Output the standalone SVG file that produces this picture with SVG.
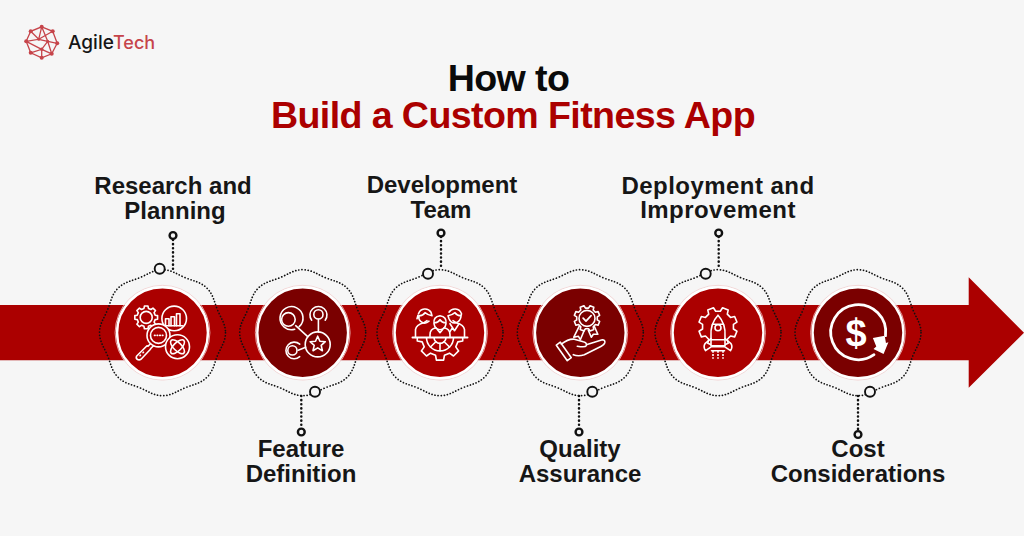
<svg xmlns="http://www.w3.org/2000/svg" width="1024" height="536" viewBox="0 0 1024 536">
<style>
text{font-family:"Liberation Sans",Arial,sans-serif;font-weight:700;text-anchor:middle}
.t{font-size:37.6px;letter-spacing:-.6px}
.l{font-size:24px;fill:#161616}
.x{letter-spacing:.45px}
.i{fill:none;stroke:#fff;stroke-width:1.6;stroke-linecap:round;stroke-linejoin:round}
.ring{fill:none;stroke:#f3cfcf;stroke-width:.8}
.w{fill:none;stroke:#111;stroke-width:1.7;stroke-dasharray:.1 3;stroke-linecap:round}
.d{fill:none;stroke:#111;stroke-width:2.5;stroke-dasharray:.1 4;stroke-linecap:round}
.k{fill:#f6f6f6;stroke:#111;stroke-width:1.9}
.e{fill:#f6f6f6;stroke:#111;stroke-width:2.4}
.lg{fill:none;stroke:#c6444a;stroke-width:1.3}
.ld{fill:#c6444a}
</style>
<defs>
<path id="wave" d="M63,0C63,9 58.4,14.5 55,22.8C51.6,31.1 50.9,38.1 44.5,44.5C38.1,50.9 31.1,51.6 22.8,55C14.5,58.4 9,63 0,63C-9,63 -14.5,58.4 -22.8,55C-31.1,51.6 -38.1,50.9 -44.5,44.5C-50.9,38.1 -51.6,31.1 -55,22.8C-58.4,14.5 -63,9 -63,0C-63,-9 -58.4,-14.5 -55,-22.8C-51.6,-31.1 -50.9,-38.1 -44.5,-44.5C-38.1,-50.9 -31.1,-51.6 -22.8,-55C-14.5,-58.4 -9,-63 0,-63C9,-63 14.5,-58.4 22.8,-55C31.1,-51.6 38.1,-50.9 44.5,-44.5C50.9,-38.1 51.6,-31.1 55,-22.8C58.4,-14.5 63,-9 63,0Z"/>
<polygon id="gear" vector-effect="non-scaling-stroke" points="9.88,-1.56 9.88,1.56 7.76,1.94 6.86,4.12 8.09,5.88 5.88,8.09 4.12,6.86 1.94,7.76 1.56,9.88 -1.56,9.88 -1.94,7.76 -4.12,6.86 -5.88,8.09 -8.09,5.88 -6.86,4.12 -7.76,1.94 -9.88,1.56 -9.88,-1.56 -7.76,-1.94 -6.86,-4.12 -8.09,-5.88 -5.88,-8.09 -4.12,-6.86 -1.94,-7.76 -1.56,-9.88 1.56,-9.88 1.94,-7.76 4.12,-6.86 5.88,-8.09 8.09,-5.88 6.86,-4.12 7.76,-1.94"/>
<g id="disc-r"><circle r="47.4" class="ring"/><circle r="45.4" fill="#ab0000" stroke="#fff" stroke-width="2.4"/></g>
<g id="disc-d"><circle r="47.4" class="ring"/><circle r="45.4" fill="#7a0000" stroke="#fff" stroke-width="2.4"/></g>
<clipPath id="half"><rect x="-30" y="4.7" width="60" height="30"/></clipPath>
</defs>
<rect width="1024" height="536" fill="#f6f6f6"/>

<g id="logo">
<g transform="translate(41.7,42.3)">
<path class="lg" d="M0,-15.5L11,-11L15.5,1L10,11.5L0,15.5L-11,10.5L-15.5,-1L-11,-11Z"/>
<path class="lg" d="M-11,-11L-3,-3L11,-11M0,-15.5L-3,-3L-15.5,-1M-3,-3L6,-1L15.5,1M6,-1L0,7L-11,10.5M0,7L10,11.5M0,7L0,15.5M6,-1L10,11.5M-15.5,-1L0,7M0,-15.5L6,-1"/>
<g class="ld"><circle cy="-15.5" r="2"/><circle cx="11" cy="-11" r="2"/><circle cx="15.5" cy="1" r="2"/><circle cx="10" cy="11.5" r="2"/><circle cy="15.5" r="2"/><circle cx="-11" cy="10.5" r="2"/><circle cx="-15.5" cy="-1" r="2"/><circle cx="-11" cy="-11" r="2"/><circle cy="7" r="1.7"/><circle cx="6" cy="-1" r="1.5"/><circle cx="-3" cy="-3" r="1.5"/></g>
</g>
<text x="68" y="49" font-size="19" style="text-anchor:start;font-family:'Inter','Liberation Sans',sans-serif;font-weight:500" fill="#151515">Agile</text>
<text x="113" y="49" font-size="18" style="text-anchor:start;font-family:'Inter','Liberation Sans',sans-serif;font-weight:500" fill="#c6444a">Tech</text>
</g>

<g id="title">
<text class="t" x="508.500" y="91" fill="#0a0a0a">How to</text>
<text class="t" x="513" y="128" fill="#ab0000">Build a Custom Fitness App</text>
</g>

<path id="arrow" d="M0,305H968.7V277.3L1024,332.7L968.7,387.7V360.3H0Z" fill="#ab0000"/>

<g id="connectors">
<path class="d" d="M173,240V269"/>
<path class="d" d="M301.3,396V428"/>
<path class="d" d="M441,237V269"/>
<path class="d" d="M579,396V428"/>
<path class="d" d="M718.7,237V269"/>
<path class="d" d="M858,396V430"/>
</g>

<g id="node-research" transform="translate(162.5,332.7)">
<use href="#disc-r"/><use href="#wave" class="w"/>
<g class="i">
<use href="#gear" transform="translate(-16.3,-15.3) scale(1.15)"/><circle cx="-16.3" cy="-15.3" r="6"/>
<circle cx="11.7" cy="-14.3" r="12.3"/><path d="M3,-7V-14H6.5V-7M8.5,-7V-16H12V-7M14,-7V-19H17.5V-7"/><path d="M2,-7H20"/>
<circle cx="-4" cy="2.7" r="11.5" fill="#ab0000"/><circle cx="-4" cy="2.7" r="8"/><path d="M-8,2.7H-7.4M-5.4,2.7H-4.8M-2.8,2.7H-2.2M-.2,2.7H.4"/>
<circle cx="15" cy="14" r="12" fill="#ab0000"/><ellipse cx="15" cy="14" rx="9" ry="4" transform="rotate(45 15 14)"/><ellipse cx="15" cy="14" rx="9" ry="4" transform="rotate(-45 15 14)"/>
<path d="M-12,11L-14.5,13.5L-15.5,13L-26,23.5Q-27,26 -24.500,27Q-22,27.500 -21,26L-12.500,17L-11.500,15.500L-9,13"/><path d="M-22.500,23L-22,22.500M-19.500,20L-19,19.500"/>
</g></g>

<g id="node-feature" transform="translate(302.7,332.7)">
<use href="#disc-d"/><use href="#wave" class="w"/>
<g class="i">
<circle cx="-14.3" cy="-13.3" r="6.8"/><path d="M-3.5,-6A11.5,11.5 0 1 0 -8,-3.5"/>
<circle cx="15.7" cy="-18.3" r="4.6"/><path d="M9,-12.5A8.5,8.5 0 1 1 22.5,-12.5"/>
<circle cx="-10.3" cy="17.7" r="4.6"/><path d="M-3,11.5A8.3,8.3 0 1 0 -3,24"/>
<circle cx="15" cy="11.7" r="12.5"/><polygon points="15,3.5 17.2,8.5 22.6,9 18.5,12.6 19.7,18 15,15.2 10.3,18 11.5,12.6 7.4,9 12.8,8.5"/>
<path d="M-7,-7L5,4M15.7,-13.5V-.8M-4.5,17.500L3,14.500"/>
</g></g>

<g id="node-team" transform="translate(440,332.7)">
<use href="#disc-r"/><use href="#wave" class="w"/>
<g class="i">
<g clip-path="url(#half)"><use href="#gear" transform="translate(0,4.7) scale(2.3)"/><circle cy="4.7" r="13.5"/><circle cy="4.7" r="6"/><path d="M0,10.7V18M4.2,9L9.5,14.3M-4.2,9L-9.5,14.3"/></g>
<path d="M-27.5,4.7H27.5" stroke-width="2"/>
<path d="M-24.5,4.7V-3Q-24,-8 -16,-10L-13,-12"/><path d="M-21.5,-19A7,7 0 0 1 -9,-20.5L-8,-17Q-12,-17.5 -15,-20Q-17,-17 -21,-17Q-22,-14 -19,-11Q-15,-8 -11,-11.5"/><path d="M-22,-17.5L-23,-14"/>
<path d="M24.5,4.7V-3Q24,-8 16,-10L13,-12"/><path d="M9,-20.5A7,7 0 0 1 21.5,-19L21,-17Q17,-17 15,-20Q12,-17.5 8,-17L9,-14Q11,-9 16,-10Q20,-11 21,-16"/><path d="M10,-9L14.5,-2L19,-9M12.5,-5L10,-1"/>
<path d="M-10,4.7V2Q-10,-4 -4,-5M10,4.7V2Q10,-4 4,-5"/><path d="M0,-17Q-7,-16 -6,-9Q-5,-3 0,-3Q5,-3 6,-9Q7,-16 0,-17ZM-5.5,-10Q-2,-10 0,-13Q2,-10 5.5,-10"/><path d="M-2.5,-3L0,0L2.5,-3"/>
</g></g>

<g id="node-quality" transform="translate(580.3,332.7)">
<use href="#disc-d"/><use href="#wave" class="w"/>
<g class="i">
<use href="#gear" transform="translate(6.7,-14.3) scale(1.3) rotate(22.5)"/><circle cx="6.7" cy="-14.3" r="8"/><path d="M2.8,-14.5L5.7,-11.5L10.8,-17" stroke-width="1.7"/>
<path d="M-1,-6.5L-6.5,4.5L-2,3.5L0,7L4,-2.5M14,-6.5L17.5,1.5L13,1.5L11,4.5L8,-2.5"/>
<path d="M-24,12.5L-20,9.5L-9,25L-13,28ZM-19,11.5Q-12,6 -6,6.5L3,9Q7,10 6,13Q5,15 -3,13.5M6,12L22,7Q25,7 24.5,10Q24,12 21,13.5L4,22Q-2,24 -7,22"/>
</g></g>

<g id="node-deploy" transform="translate(718,332.7)">
<use href="#disc-r"/><use href="#wave" class="w"/>
<g class="i">
<use href="#gear" transform="translate(0,-6) scale(1.95) rotate(22.5)"/>
<path d="M0,-17.5Q-8,-9 -7,4V13H7V4Q8,-9 0,-17.5Z" fill="#ab0000"/><path d="M-5.5,-8.5H5.5M-7,7H7"/><circle cy="-5" r="3"/>
<path d="M-7,6L-13,11Q-15,14 -12.5,18L-6.5,14H6.5L12.5,18Q15,14 13,11L7,6M-6.5,18H6.5"/>
<path d="M-5,18V26M0,18V26M5,18V26" stroke-dasharray="2 1.3" stroke-linecap="butt"/>
</g></g>

<g id="node-cost" transform="translate(858,332.7)">
<use href="#disc-d"/><use href="#wave" class="w"/>
<g fill="none" stroke="#fff" stroke-width="2.8" stroke-linecap="round">
<path d="M16,22A27.500,27.500 0 1 1 27.500,3"/>
</g>
<text x="-2" y="13" font-size="38" fill="#fff">$</text>
<polygon points="15.5,4.500 27.500,3.500 28,11 30.500,10.500 24.500,21.500 15,15.500 18,13.500" fill="#fff" transform="rotate(-6 22 11)"/>
</g>

<g id="pins">
<circle class="k" cx="159.7" cy="268.7" r="5"/><circle class="e" cx="173" cy="235.5" r="3.4"/>
<circle class="k" cx="315" cy="391.7" r="5"/><circle class="e" cx="301.3" cy="432" r="3.4"/>
<circle class="k" cx="428" cy="273.7" r="5"/><circle class="e" cx="441" cy="233" r="3.4"/>
<circle class="k" cx="592.3" cy="391.7" r="5"/><circle class="e" cx="579" cy="432" r="3.4"/>
<circle class="k" cx="705.7" cy="273.7" r="5"/><circle class="e" cx="718.7" cy="233" r="3.4"/>
<circle class="k" cx="870" cy="391.7" r="5"/><circle class="e" cx="858" cy="434.5" r="3.4"/>
</g>

<g id="labels">
<text class="l" x="173" y="194">Research and</text><text class="l" x="175" y="219">Planning</text>
<text class="l" x="301" y="457">Feature</text><text class="l" x="301" y="481.500">Definition</text>
<text class="l" x="442" y="193">Development</text><text class="l" x="441" y="218">Team</text>
<text class="l" x="580" y="457">Quality</text><text class="l" x="580" y="481.500">Assurance</text>
<text class="l x" x="718" y="194">Deployment and</text><text class="l x" x="718" y="218">Improvement</text>
<text class="l" x="858" y="457">Cost</text><text class="l" x="858" y="481.500">Considerations</text>
</g>
</svg>
